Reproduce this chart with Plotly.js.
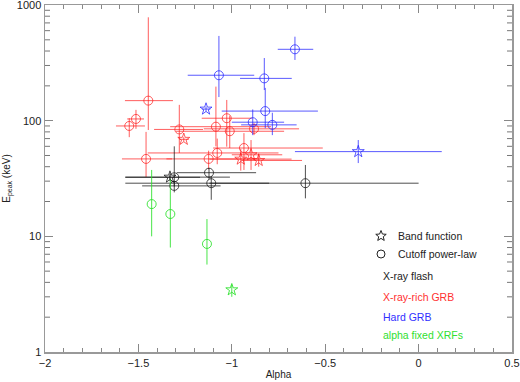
<!DOCTYPE html>
<html>
<head>
<meta charset="utf-8">
<script src="https://cdn.plot.ly/plotly-3.0.1.min.js"></script>
<style>
  body { margin: 0; background: white; }
  #myDiv { width: 520px; height: 382px; }
</style>
</head>
<body>
<div id="myDiv"></div>
<script>
// model per point: 'band' = Band function (star), 'cpl' = cutoff power-law (circle)

// X-ray flashes (black)
var xrfModel   = ['band', 'cpl', 'cpl', 'cpl', 'cpl', 'cpl'];
var xrfAlpha   = [-1.331, -1.308, -1.308, -1.122, -1.110, -0.606];
var xrfAlphaLo = [-1.57, -1.57, -1.48, -1.295, -1.57, -1.12];
var xrfAlphaHi = [-1.01, -1.17, -1.06, -0.87, -0.80, 0.0];
var xrfEp      = [32.5, 32.4, 27.3, 35.5, 28.8, 28.8];
var xrfEpLo    = [30, 27, 24, 31, 20.7, 21.3];
var xrfEpHi    = [35, 60, 30, 39, 33, 41.4];

// X-ray-rich GRBs (red)
var xrrModel   = ['cpl', 'cpl', 'cpl', 'cpl', 'band', 'cpl', 'cpl', 'cpl', 'cpl', 'cpl', 'cpl', 'cpl', 'band', 'band', 'band', 'cpl'];
var xrrAlpha   = [-1.447, -1.513, -1.549, -1.281, -1.257, -1.459, -1.085, -1.027, -1.011, -1.078, -1.124, -0.935, -0.952, -0.897, -0.856, -0.881];
var xrrAlphaLo = [-1.572, -1.56, -1.62, -1.416, -1.28, -1.588, -1.33, -1.161, -1.30, -1.45, -1.35, -1.10, -1.12, -1.00, -0.95, -1.15];
var xrrAlphaHi = [-1.315, -1.47, -1.465, -1.154, -1.23, -1.32, -0.79, -0.893, -0.72, -0.75, -0.85, -0.513, -0.68, -0.73, -0.624, -0.64];
var xrrEp      = [149, 103.5, 90, 84, 69, 46.7, 88.7, 105, 81, 52.6, 46.7, 58, 46.5, 50.7, 45.3, 85];
var xrrEpLo    = [83, 85, 72, 52.6, 66, 32.6, 60, 59.6, 58, 42, 38, 37.5, 37, 37.5, 40, 75];
var xrrEpHi    = [783, 124, 105, 137, 72, 80, 197, 151, 110, 70, 55, 78, 57, 68, 52, 95];

// Hard GRBs (blue)
var hardModel   = ['cpl', 'cpl', 'cpl', 'cpl', 'cpl', 'cpl', 'band', 'band'];
var hardAlpha   = [-1.069, -0.826, -0.821, -0.662, -0.888, -0.783, -1.138, -0.323];
var hardAlphaLo = [-1.236, -0.956, -1.054, -0.754, -1.00, -0.95, -1.16, -0.662];
var hardAlphaHi = [-0.880, -0.679, -0.539, -0.564, -0.72, -0.653, -1.115, 0.124];
var hardEp      = [247, 232, 121, 414, 97, 92, 126, 54];
var hardEpLo    = [160, 184, 86, 335, 75, 75, 120, 43];
var hardEpHi    = [540, 348, 192, 532, 125, 117, 132, 68];

// alpha fixed XRFs (green)
var fixedModel = ['cpl', 'cpl', 'cpl', 'band'];
var fixedAlpha = [-1.429, -1.329, -1.133, -1.0];
var fixedEp    = [19, 15.6, 8.6, 3.45];
var fixedEpLo  = [10, 8, 5.7, 3.0];
var fixedEpHi  = [37.5, 31, 14.1, 3.8];

function symbols(models) {
  return models.map(function (m) { return m === 'band' ? 'star-open' : 'circle-open'; });
}
function plus(v, hi) { return v.map(function (d, i) { return hi[i] - d; }); }
function minus(v, lo) { return v.map(function (d, i) { return d - lo[i]; }); }

function group(name, model, alpha, aLo, aHi, ep, eLo, eHi, color) {
  var t = {
    x: alpha,
    y: ep,
    name: name,
    type: 'scatter',
    mode: 'markers',
    marker: {
      symbol: symbols(model),
      size: 9,
      color: color,
      line: { width: 1, color: color }
    },
    error_y: {
      type: 'data', symmetric: false,
      array: plus(ep, eHi), arrayminus: minus(ep, eLo),
      color: color, thickness: 1, width: 0
    },
    showlegend: false
  };
  if (aLo) {
    t.error_x = {
      type: 'data', symmetric: false,
      array: plus(alpha, aHi), arrayminus: minus(alpha, aLo),
      color: color, thickness: 1, width: 0
    };
  }
  return t;
}

var black = 'rgba(20,20,20,0.75)';
var red = 'rgba(255,25,25,0.7)';
var blue = 'rgba(35,35,255,0.75)';
var green = 'rgba(40,225,40,0.85)';

var data = [
  group('X-ray-rich GRB', xrrModel, xrrAlpha, xrrAlphaLo, xrrAlphaHi, xrrEp, xrrEpLo, xrrEpHi, red),
  group('Hard GRB', hardModel, hardAlpha, hardAlphaLo, hardAlphaHi, hardEp, hardEpLo, hardEpHi, blue),
  group('X-ray flash', xrfModel, xrfAlpha, xrfAlphaLo, xrfAlphaHi, xrfEp, xrfEpLo, xrfEpHi, black),
  group('alpha fixed XRFs', fixedModel, fixedAlpha, null, null, fixedEp, fixedEpLo, fixedEpHi, green)
];

// legend drawn as text + small shapes, like the original
var plotW = 467, plotH = 347;
function px(x) { return (x - 45) / plotW; }
function py(y) { return (352 - y) / plotH; }

var legendFont = 'Liberation Sans, Arial, sans-serif';
var legendText = ['Band function', 'Cutoff power-law', 'X-ray flash', 'X-ray-rich GRB', 'Hard GRB', 'alpha fixed XRFs'];
var legendColor = ['#222', '#222', '#222', '#ff3030', '#3030ff', '#30e030'];
var legendY = [236, 254, 276, 297, 317, 335];
var legendX = [396, 396, 381, 381, 381, 381];

var annotations = legendText.map(function (t, i) {
  return {
    text: t, xref: 'paper', yref: 'paper',
    x: px(legendX[i]), y: py(legendY[i]),
    xanchor: 'left', yanchor: 'middle', showarrow: false,
    font: { family: legendFont, size: 10.5, color: legendColor[i] }
  };
});

// star glyph and circle glyph for the legend
var starPts = [];
for (var k = 0; k < 10; k++) {
  var r = k % 2 === 0 ? 5.5 : 2.4;
  var a = -Math.PI / 2 + k * Math.PI / 5;
  starPts.push((k ? 'L' : 'M') + px(381 + r * Math.cos(a)).toFixed(5) + ',' + py(legendY[0] + r * Math.sin(a)).toFixed(5));
}
var shapes = [
  { type: 'path', xref: 'paper', yref: 'paper', path: starPts.join(' ') + ' Z',
    line: { color: '#222', width: 1 } },
  { type: 'circle', xref: 'paper', yref: 'paper',
    x0: px(377), x1: px(385), y0: py(legendY[1] + 4), y1: py(legendY[1] - 4),
    line: { color: '#222', width: 1 } }
];

// minor ticks on the log axis (2..9 in each decade), left and right edges
var yDecades = 3;
var minorLen = 5 / plotW;
[1, 10, 100].forEach(function (d) {
  for (var j = 2; j <= 9; j++) {
    var yy = Math.log10(j * d) / yDecades;
    shapes.push({ type: 'line', xref: 'paper', yref: 'paper', layer: 'above',
      x0: 0, x1: minorLen, y0: yy, y1: yy, line: { color: '#777', width: 1 } });
    shapes.push({ type: 'line', xref: 'paper', yref: 'paper', layer: 'above',
      x0: 1 - minorLen, x1: 1, y0: yy, y1: yy, line: { color: '#777', width: 1 } });
  }
});

var axisCommon = {
  showgrid: false,
  zeroline: false,
  showline: true,
  mirror: 'ticks',
  linecolor: '#999',
  linewidth: 1.5,
  ticks: 'inside',
  ticklen: 8,
  tickcolor: '#888',
  tickfont: { family: 'Liberation Sans, Arial, sans-serif', size: 11, color: '#222' }
};

var layout = {
  width: 520,
  height: 382,
  margin: { l: 45, r: 8, t: 5, b: 30 },
  paper_bgcolor: 'white',
  plot_bgcolor: 'white',
  font: { family: 'Liberation Sans, Arial, sans-serif', color: '#222' },
  xaxis: Object.assign({}, axisCommon, {
    range: [-2, 0.5],
    dtick: 0.5,
    tick0: 0,
    minor: { dtick: 0.1, ticks: 'inside', ticklen: 4, tickcolor: '#888' },
    title: { text: 'Alpha', font: { size: 10 }, standoff: 3 }
  }),
  yaxis: Object.assign({}, axisCommon, {
    type: 'log',
    range: [0, yDecades],
    tickmode: 'array',
    tickvals: [1, 10, 100, 1000],
    ticktext: ['1', '10', '100', '1000'],
    ticklabeloverflow: 'allow',
    title: { text: 'E<sub>peak</sub> (keV)', font: { size: 10 }, standoff: 4 }
  }),
  shapes: shapes,
  annotations: annotations
};

Plotly.newPlot('myDiv', data, layout, { staticPlot: true });
</script>
</body>
</html>
